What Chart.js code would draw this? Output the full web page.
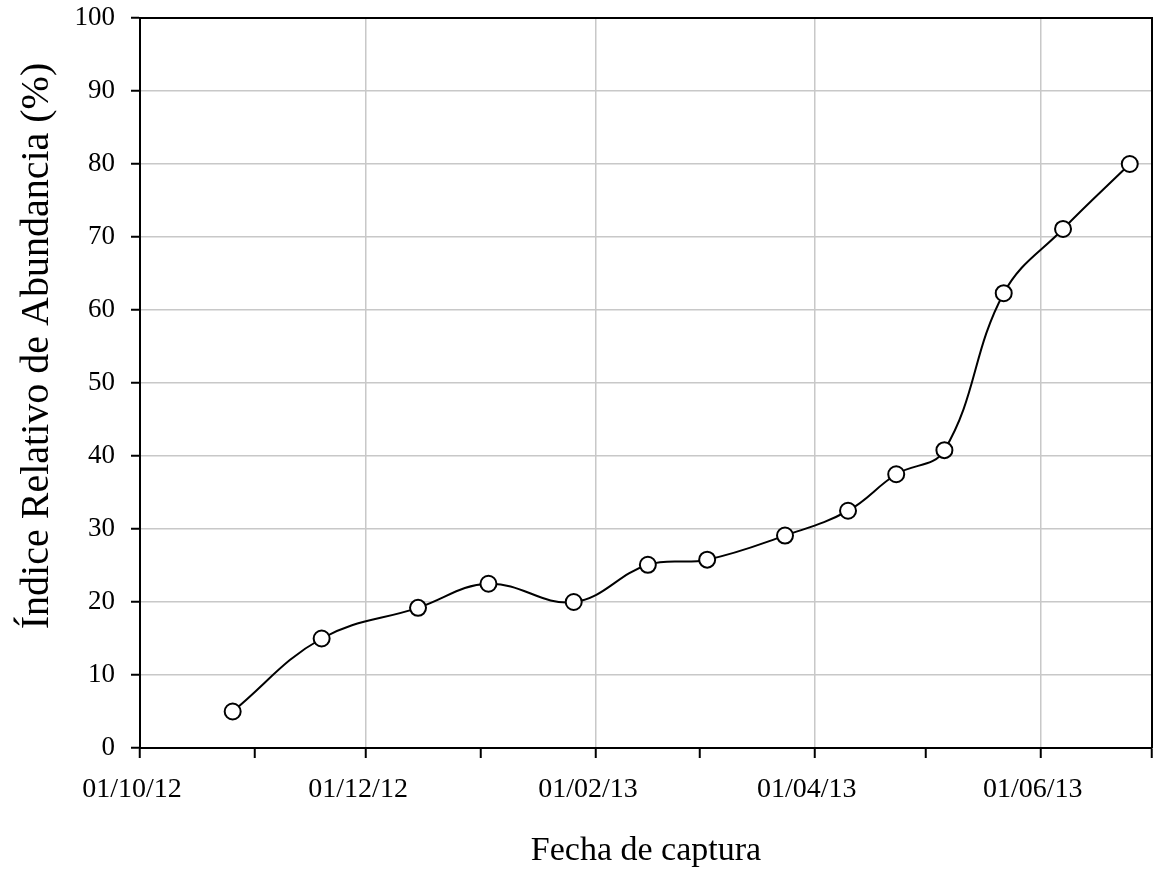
<!DOCTYPE html>
<html>
<head>
<meta charset="utf-8">
<script src="https://cdn.jsdelivr.net/npm/chart.js@4.4.1/dist/chart.umd.min.js"></script>
<style>
  html, body { margin: 0; padding: 0; background: #ffffff; }
  #wrap { width: 1155px; height: 871px; }
</style>
</head>
<body>
<div id="wrap"><canvas id="chart" width="1155" height="871"></canvas></div>
<script>
// Capture dates (dd/mm/yy) and relative abundance index (%)
const captureDates = ['26/10/12', '19/11/12', '15/12/12', '03/01/13', '26/01/13', '15/02/13', '03/03/13',
                      '24/03/13', '10/04/13', '23/04/13', '06/05/13', '22/05/13', '07/06/13', '25/06/13'];
const abundance = [5.0, 15.0, 19.2, 22.5, 20.0, 25.1, 25.8, 29.1, 32.5, 37.5, 40.8, 62.3, 71.1, 80.0];

// Date axis: labelled (major) ticks and unlabelled (minor) monthly ticks
const majorTickDates = ['01/10/12', '01/12/12', '01/02/13', '01/04/13', '01/06/13'];
const minorTickDates = ['01/11/12', '01/01/13', '01/03/13', '01/05/13', '01/07/13'];
const axisStart = '01/10/12';
const axisEnd = '01/07/13';

// Value axis ticks
const yTicks = [0, 10, 20, 30, 40, 50, 60, 70, 80, 90, 100];

const xTitle = 'Fecha de captura';
const yTitle = 'Índice Relativo de Abundancia (%)';

const ORIGIN = Date.UTC(2012, 9, 1);
function dayIndex(s) {
  const [d, m, y] = s.split('/').map(Number);
  return Math.round((Date.UTC(2000 + y, m - 1, d) - ORIGIN) / 86400000);
}

const majorDays = majorTickDates.map(dayIndex);
const minorDays = minorTickDates.map(dayIndex);
const labelByDay = {};
majorTickDates.forEach((s, i) => { labelByDay[majorDays[i]] = s; });
const allTickDays = majorDays.concat(minorDays).sort((a, b) => a - b);

const points = captureDates.map((s, i) => ({ x: dayIndex(s), y: abundance[i] }));

const GRID = '#c8c8c8';
const FONT = 'Liberation Serif';

// Closes the plot box with top and right edges and writes the vertical axis title
const frame = {
  id: 'frame',
  afterDraw(chart) {
    const { ctx, chartArea: a } = chart;
    ctx.save();
    ctx.strokeStyle = '#000';
    ctx.lineWidth = 2;
    ctx.beginPath();
    ctx.moveTo(a.left, a.top);
    ctx.lineTo(a.right, a.top);
    ctx.lineTo(a.right, a.bottom);
    ctx.stroke();

    ctx.translate(37, 346);
    ctx.rotate(-Math.PI / 2);
    ctx.fillStyle = '#000';
    ctx.font = '40px "' + FONT + '"';
    ctx.textAlign = 'center';
    ctx.textBaseline = 'middle';
    ctx.fillText(yTitle, 0, 0);
    ctx.restore();
  }
};

const chart = new Chart(document.getElementById('chart'), {
  type: 'line',
  data: {
    datasets: [{
      data: points,
      borderColor: '#000',
      borderWidth: 2,
      tension: 0.4,
      pointRadius: 8,
      pointHoverRadius: 8,
      pointBorderWidth: 2,
      pointBackgroundColor: '#fff',
      pointBorderColor: '#000',
      fill: false,
      clip: false
    }]
  },
  options: {
    responsive: false,
    animation: false,
    devicePixelRatio: 1,
    layout: { padding: { top: 18, right: 3, left: 0, bottom: 0 } },
    plugins: { legend: { display: false }, tooltip: { enabled: false } },
    scales: {
      x: {
        type: 'linear',
        min: dayIndex(axisStart),
        max: dayIndex(axisEnd),
        afterBuildTicks(scale) { scale.ticks = allTickDays.map(v => ({ value: v })); },
        afterFit(scale) {
          scale.height = 123;
          scale.paddingLeft = 0;
          scale.paddingRight = 0;
        },
        ticks: {
          autoSkip: false,
          maxRotation: 0,
          padding: 15,
          labelOffset: -8,
          color: '#000',
          font: { family: FONT, size: 28 },
          callback: v => labelByDay[v] || ''
        },
        grid: {
          color: ctx => (ctx.tick && labelByDay[ctx.tick.value] && ctx.tick.value !== 0) ? GRID : 'rgba(0,0,0,0)',
          tickColor: '#000',
          tickLength: 10,
          tickWidth: 2,
          lineWidth: 1.5
        },
        border: { color: '#000', width: 2 },
        title: {
          display: true,
          text: xTitle,
          color: '#000',
          font: { family: FONT, size: 34 },
          padding: { top: 0, bottom: 0 }
        }
      },
      y: {
        min: 0,
        max: 100,
        afterBuildTicks(scale) { scale.ticks = yTicks.map(v => ({ value: v })); },
        afterFit(scale) {
          scale.width = 140;
          scale.paddingTop = 0;
          scale.paddingBottom = 0;
        },
        ticks: {
          padding: 16,
          color: '#000',
          font: { family: FONT, size: 27 }
        },
        grid: {
          color: ctx => (ctx.tick && (ctx.tick.value === 0 || ctx.tick.value === 100)) ? 'rgba(0,0,0,0)' : GRID,
          tickColor: '#000',
          tickLength: 9,
          tickWidth: 2,
          lineWidth: 1.5
        },
        border: { color: '#000', width: 2 }
      }
    }
  },
  plugins: [frame]
});

// The plot box edges are fixed by the layout padding, not by the marker size
chart.getDatasetMeta(0).controller.getMaxOverflow = () => 0;
chart.update();
</script>
</body>
</html>
